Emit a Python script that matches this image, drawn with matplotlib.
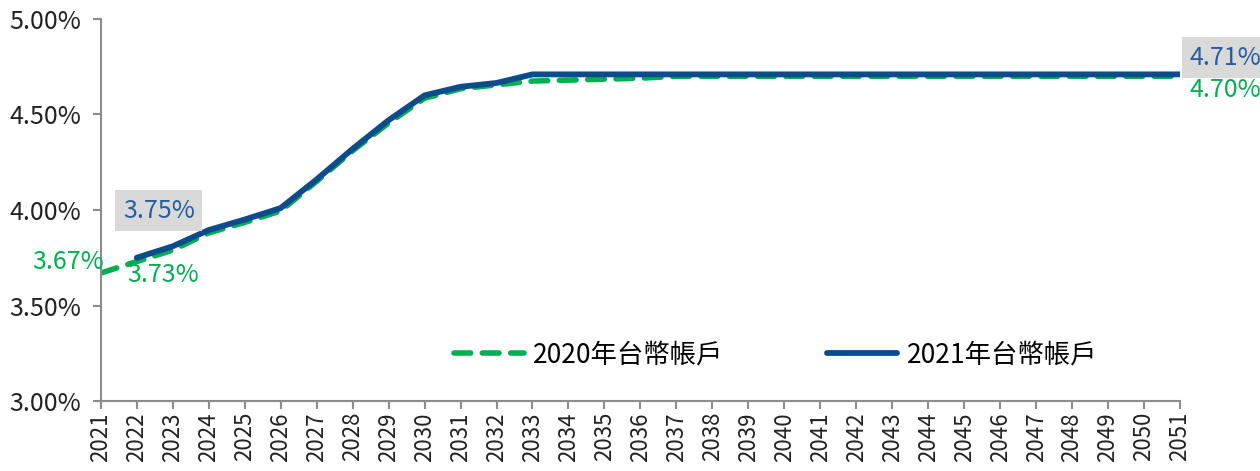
import numpy as np
import matplotlib.pyplot as plt

plt.rcParams['font.family'] = ['Noto Sans CJK TC', 'DejaVu Sans']

# data
years = list(range(2021, 2052))
rate_2020 = [3.67, 3.73, 3.79, 3.88, 3.935, 3.995, 4.15, 4.31, 4.455, 4.585,
             4.635, 4.655, 4.675, 4.68, 4.685, 4.69] + [4.70] * 15
years_2021 = list(range(2022, 2052))
rate_2021 = [3.75, 3.81, 3.895, 3.95, 4.01, 4.16, 4.32, 4.47, 4.60, 4.645,
             4.665, 4.71] + [4.71] * 18
labels = ['2020年台幣帳戶', '2021年台幣帳戶']

green = '#00B050'
navy = '#0D4C8C'
axis_grey = '#8C8C8C'
fs = 18

fig = plt.figure(figsize=(12.6, 4.71), dpi=100)
ax = fig.add_axes([0.080, 0.1486, 0.8565, 0.8111])

ax.plot(years, rate_2020, color=green, lw=4.0, ls=(0, (3.0, 2.1)),
        solid_capstyle='round', dash_capstyle='round', label=labels[0], zorder=2)
ax.plot(years_2021, rate_2021, color=navy, lw=4.2, solid_capstyle='round',
        label=labels[1], zorder=3)

ax.set_xlim(2021, 2051)
ax.set_ylim(3.0, 5.0)
ax.set_xticks(years)
ax.set_xticklabels([str(y) for y in years], rotation=90, fontsize=16)
ax.set_yticks(np.arange(3.0, 5.01, 0.5))
ax.set_yticklabels([f'{v:.2f}%' for v in np.arange(3.0, 5.01, 0.5)], fontsize=fs)

for s in ['top', 'right']:
    ax.spines[s].set_visible(False)
for s in ['left', 'bottom']:
    ax.spines[s].set_color(axis_grey)
    ax.spines[s].set_linewidth(1.5)
ax.tick_params(axis='both', color=axis_grey, width=1.5, length=6, direction='out',
               labelcolor='#222222')
ax.tick_params(axis='x', pad=2)
ax.tick_params(axis='y', pad=8)

# value labels
ax.annotate('3.67%', xy=(2021, 3.67), xytext=(2, 8), textcoords='offset points',
            ha='right', va='center', color=green, fontsize=fs, annotation_clip=False)
ax.annotate('3.73%', xy=(2022, 3.73), xytext=(-7, -10), textcoords='offset points',
            ha='left', va='center', color=green, fontsize=fs)
ax.annotate('3.75%', xy=(2022, 3.75), xytext=(-10, 34), textcoords='offset points',
            ha='left', va='center', color='#255E9E', fontsize=fs,
            bbox=dict(boxstyle='square,pad=0.3', fc='#D9D9D9', ec='none'))
ax.annotate('4.71%', xy=(2051, 4.71), xytext=(7, 12), textcoords='offset points',
            ha='left', va='center', color='#255E9E', fontsize=fs,
            bbox=dict(boxstyle='square,pad=0.3', fc='#D9D9D9', ec='none'),
            annotation_clip=False)
ax.annotate('4.70%', xy=(2051, 4.70), xytext=(7, -10), textcoords='offset points',
            ha='left', va='center', color=green, fontsize=fs, annotation_clip=False)

ax.legend(loc='center', bbox_to_anchor=(0.625, 0.12), ncol=2, frameon=False,
          fontsize=19, handlelength=2.65, columnspacing=3.95, handletextpad=0.35)

fig.savefig('out.png', dpi=100)
